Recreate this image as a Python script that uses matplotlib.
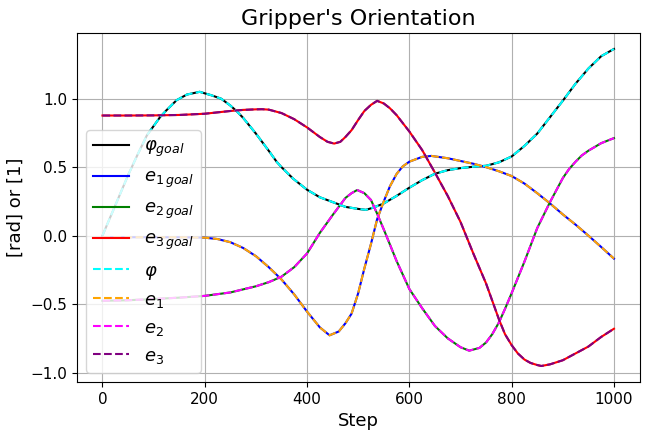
#!/usr/bin/env python3
import matplotlib
matplotlib.use("Agg")
import matplotlib.pyplot as plt

# goal trajectories (step, value), sampled more densely around the bends
phi_steps = [0, 25, 50, 68, 87, 100, 113, 125, 145, 165, 190, 212, 232, 250, 264,
             275, 300, 325, 341, 350, 373, 400, 425, 450, 475, 500, 515, 530, 550,
             575, 600, 625, 650, 675, 700, 725, 750, 775, 800, 825, 850, 875, 900,
             925, 950, 975, 1000]
phi_goal = [0.0, 0.22, 0.44, 0.586, 0.733, 0.80, 0.867, 0.915, 0.989, 1.03, 1.05,
            1.026, 1.0, 0.95, 0.903, 0.86, 0.745, 0.62, 0.537, 0.50, 0.415, 0.335,
            0.28, 0.245, 0.21, 0.195, 0.188, 0.205, 0.235, 0.29, 0.35, 0.405, 0.452,
            0.478, 0.493, 0.503, 0.51, 0.535, 0.578, 0.655, 0.745, 0.865, 0.985,
            1.11, 1.22, 1.31, 1.363]

e1_steps = [0, 50, 100, 150, 200, 225, 250, 275, 300, 325, 350, 375, 400, 425, 444,
            462, 475, 487, 500, 512, 525, 537, 550, 562, 575, 587, 600, 625, 643,
            675, 700, 725, 750, 775, 800, 825, 850, 875, 900, 925, 950, 975, 1000]
e1_goal = [-0.012, -0.012, -0.012, -0.012, -0.015, -0.025, -0.048, -0.09, -0.15,
           -0.23, -0.32, -0.43, -0.555, -0.67, -0.728, -0.70, -0.64, -0.57, -0.42,
           -0.24, -0.06, 0.12, 0.25, 0.36, 0.45, 0.505, 0.54, 0.575, 0.582, 0.565,
           0.545, 0.525, 0.50, 0.47, 0.435, 0.38, 0.31, 0.235, 0.155, 0.08, 0.0,
           -0.083, -0.168]

e2_steps = [0, 50, 100, 150, 200, 250, 300, 325, 350, 375, 400, 425, 450, 475, 487,
            498, 512, 525, 537, 550, 562, 575, 600, 625, 650, 675, 700, 717, 737,
            750, 762, 775, 787, 800, 825, 850, 875, 900, 912, 925, 937, 950, 975,
            1000]
e2_goal = [-0.476, -0.472, -0.463, -0.453, -0.44, -0.415, -0.37, -0.34, -0.30,
           -0.23, -0.13, 0.02, 0.15, 0.275, 0.31, 0.333, 0.31, 0.26, 0.16, 0.045,
           -0.065, -0.185, -0.39, -0.53, -0.66, -0.75, -0.815, -0.84, -0.82,
           -0.78, -0.72, -0.635, -0.535, -0.42, -0.19, 0.055, 0.245, 0.42, 0.485,
           0.54, 0.585, 0.62, 0.675, 0.712]

e3_steps = [0, 50, 100, 150, 200, 250, 275, 300, 312, 325, 350, 375, 400, 425, 440,
            453, 465, 475, 487, 500, 512, 525, 537, 550, 562, 575, 600, 625, 650,
            675, 700, 725, 750, 775, 787, 800, 812, 825, 837, 850, 858, 875, 900,
            925, 950, 975, 1000]
e3_goal = [0.877, 0.877, 0.878, 0.881, 0.89, 0.91, 0.918, 0.922, 0.923, 0.92, 0.895,
           0.85, 0.79, 0.72, 0.685, 0.672, 0.685, 0.72, 0.77, 0.845, 0.91, 0.955,
           0.984, 0.965, 0.93, 0.88, 0.76, 0.625, 0.46, 0.29, 0.10, -0.13, -0.35,
           -0.61, -0.72, -0.80, -0.86, -0.905, -0.93, -0.945, -0.952, -0.94, -0.91,
           -0.86, -0.81, -0.74, -0.68]

# measured orientation tracks the goal
phi = phi_goal
e1 = e1_goal
e2 = e2_goal
e3 = e3_goal

fig = plt.figure(figsize=(6.46, 4.30), dpi=100)
plt.subplots_adjust(left=0.119, right=0.99, top=0.923, bottom=0.112)

plt.plot(phi_steps, phi_goal, color="black", label=r"$\varphi_{goal}$")
plt.plot(e1_steps, e1_goal, color="blue", label=r"$e_{1\,goal}$")
plt.plot(e2_steps, e2_goal, color="green", label=r"$e_{2\,goal}$")
plt.plot(e3_steps, e3_goal, color="red", label=r"$e_{3\,goal}$")
plt.plot(phi_steps, phi, color="cyan", linestyle="--", label=r"$\varphi$")
plt.plot(e1_steps, e1, color="orange", linestyle="--", label=r"$e_1$")
plt.plot(e2_steps, e2, color="magenta", linestyle="--", label=r"$e_2$")
plt.plot(e3_steps, e3, color="purple", linestyle="--", label=r"$e_3$")

plt.title("Gripper's Orientation", fontsize=16)
plt.xlabel("Step", fontsize=13)
plt.ylabel("[rad] or [1]", fontsize=13)
plt.xticks(fontsize=11)
plt.yticks(fontsize=11)
plt.grid(True)
plt.legend(loc="lower left", fontsize=13)

plt.savefig("out.png", dpi=100)
